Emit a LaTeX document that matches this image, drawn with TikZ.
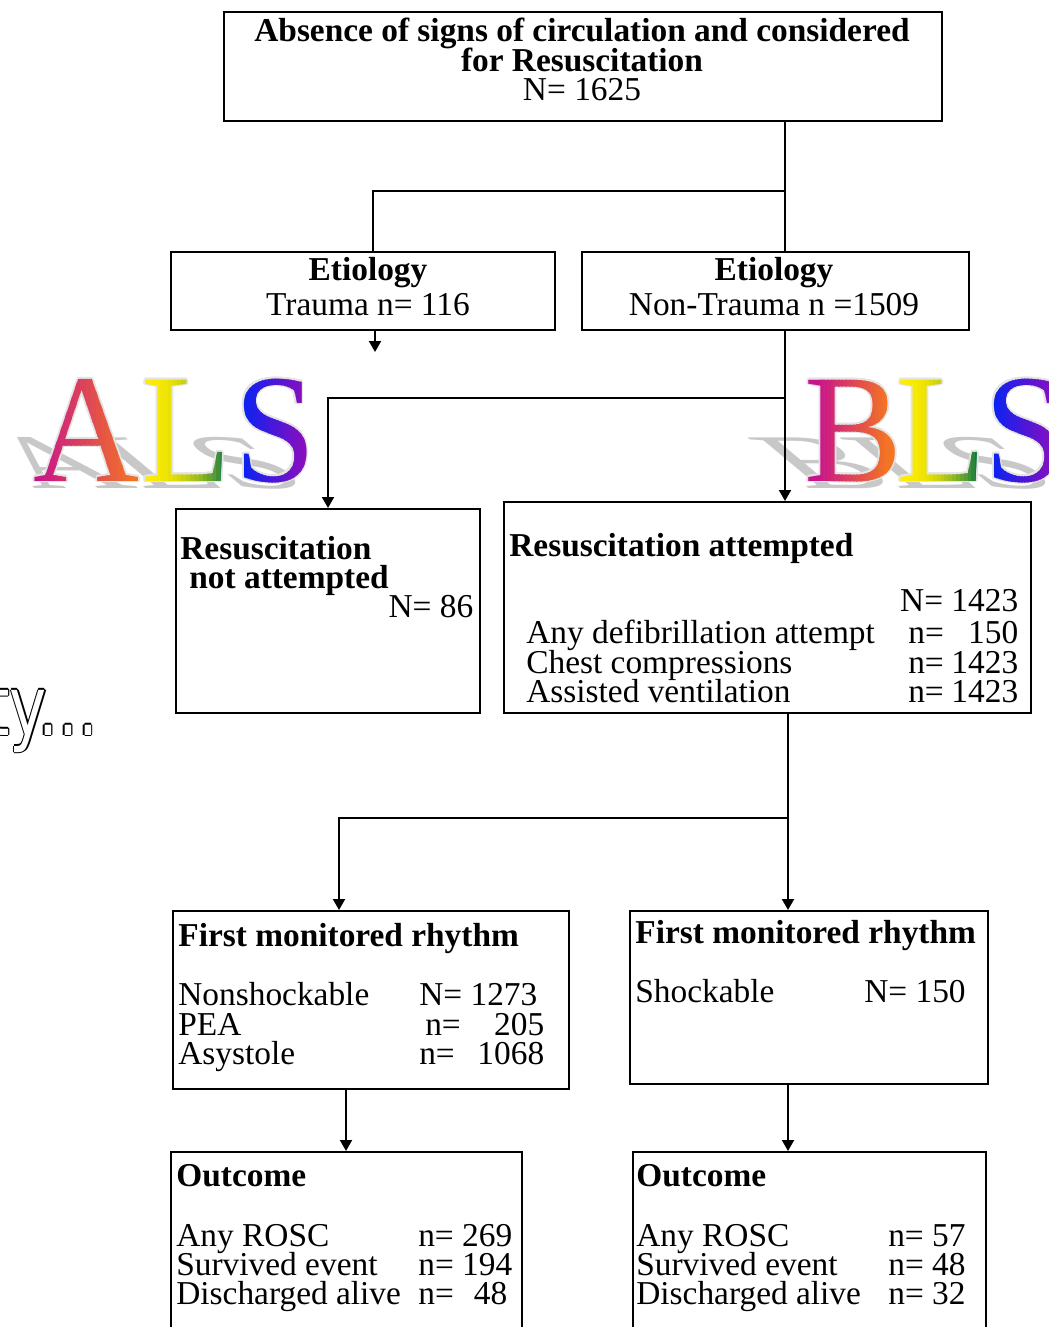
\documentclass[tikz,border=0pt]{standalone}
\usepackage{fontspec}
\setmainfont{Liberation Serif}
\newfontfamily\tyfont{DejaVu Sans}
\usepackage{graphicx}
\usepackage{xcolor}
\usepackage{tikz}
\usetikzlibrary{arrows.meta,positioning}
\definecolor{shadowgray}{HTML}{C8C8C8}
\definecolor{halo}{HTML}{E4E4E4}
\definecolor{amag}{HTML}{C8148C}
\definecolor{aorange}{HTML}{F27424}
\definecolor{lyellow}{HTML}{FFEC00}
\definecolor{lgreen}{HTML}{127A46}
\definecolor{sblue}{HTML}{0A22F2}
\definecolor{spurple}{HTML}{8A0EBE}

\newcommand{\boxfont}{\fontsize{19}{17}\selectfont}
% lines of text at a fixed pitch, baseline = first line
\newcommand{\txtstack}[1]{\vtop{\baselineskip=0.59cm\lineskiplimit=-\maxdimen\lineskip=0pt #1}}
\newcommand{\midline}[1]{\hbox to 0pt{\hss#1\hss}}
\newcommand{\statrow}[3]{\hbox{\hbox to #1{#2\hfil}#3}}

% flattened grey shadow of one big letter
\newcommand{\lettershadow}[3]{%
  \begin{scope}[shift={({(#2+#3)/2},488)}]
    \node[bigletter, text=shadowgray, cm={1,0,-0.6,0.5,(0,0)}, transform shape] at (0,0) {\scalebox{0.95}[1]{#1}};
  \end{scope}}

% big letter with a thin halo and a left-to-right colour blend
\newcommand{\rainbowletter}[6]{%
  \foreach \a in {0,45,...,315}
    \node[bigletter, text=halo, shift={(\a:1.8)}] at ({(#2+#3)/2},481) {\scalebox{0.95}[1]{#1}};
  \foreach \s in {0,...,19}{
    \pgfmathsetmacro{\xa}{\s==0 ? #2-40 : #2+(#3-#2)*\s/20-0.4}
    \pgfmathsetmacro{\xb}{\s==19 ? #3+40 : #2+(#3-#2)*(\s+1)/20+0.4}
    \pgfmathtruncatemacro{\shadeval}{100-100*(\s/19)^#6}
    \begin{scope}
      \clip (\xa,495) rectangle (\xb,355);
      \node[bigletter, text=#4!\shadeval!#5] at ({(#2+#3)/2},481) {\scalebox{0.95}[1]{#1}};
    \end{scope}
  }}

\begin{document}
\begin{tikzpicture}[x=0.02cm, y=-0.02cm,
  panel/.style={draw, line width=1.1pt, anchor=north west, inner sep=0pt},
  txt/.style={inner sep=0pt, anchor=base west, font=\boxfont},
  link/.style={line width=1.1pt},
  arr/.style={line width=1.1pt, -{Triangle[length=2.2mm,width=2.4mm]}},
  bigletter/.style={inner sep=0pt, anchor=base, font=\fontsize{88}{88}\selectfont},
  tyword/.style={inner sep=0pt, anchor=base west, font=\tyfont\fontsize{47}{47}\selectfont}
]
\useasboundingbox (0,0) rectangle (1048,1327);

% ALS / BLS
\foreach \ch/\xl/\xr in {A/35/138, L/143/230, S/243/307, B/817/890, L/903/980, S/993/1057}
  \lettershadow{\ch}{\xl}{\xr};
\foreach \ch/\xl/\xr/\ca/\cb/\pw in {A/35/138/amag/aorange/1, L/143/230/lyellow/lgreen/2, S/243/307/sblue/spurple/1,
    B/817/890/amag/aorange/1, L/903/980/lyellow/lgreen/2, S/993/1057/sblue/spurple/1}
  \rainbowletter{\ch}{\xl}{\xr}{\ca}{\cb}{\pw};

% outlined word at the left edge
\foreach \a in {0,45,...,315}
  \node[tyword, text=black, shift={(\a:1.2)}] at (-15,735) {\scalebox{0.76}[1]{ty...}};
\node[tyword, text=white] (tyfill) at (-15,735) {\scalebox{0.76}[1]{ty...}};

% boxes
\node[panel, minimum width=14.36cm, minimum height=2.18cm] (top) at (223,11) {};
\node[panel, minimum width=7.68cm, minimum height=1.56cm] (trauma) at (170,251) {};
\node[panel, minimum width=7.74cm, minimum height=1.56cm] (nontr) at (581,251) {};
\node[panel, minimum width=6.08cm, minimum height=4.08cm] (notatt) at (175,508) {};
\node[panel, minimum width=10.54cm, minimum height=4.22cm] (att) at (503,501) {};
\node[panel, minimum width=7.92cm, minimum height=3.56cm] (fmL) at (172,910) {};
\node[panel, minimum width=7.16cm, minimum height=3.46cm] (fmR) at (629,910) {};
\node[panel, minimum width=7.02cm, minimum height=4cm] (outL) at (170,1151) {};
\node[panel, minimum width=7.06cm, minimum height=4cm] (outR) at (632,1151) {};

% texts
\node[txt, anchor=base] (topT) at (582,42) {\txtstack{%
  \midline{\textbf{Absence of signs of circulation and considered}}
  \midline{\textbf{for Resuscitation}}
  \midline{N= 1625}}};
\node[txt, anchor=base] (traumaT) at (368,281) {\txtstack{%
  \midline{\textbf{Etiology}}\vskip0.11cm
  \midline{Trauma n= 116}}};
\node[txt, anchor=base] (nontrT) at (774,281) {\txtstack{%
  \midline{\textbf{Etiology}}\vskip0.11cm
  \midline{Non-Trauma n =1509}}};
\node[txt] (notattT) at (180,559) {\txtstack{%
  \hbox{\textbf{Resuscitation}}
  \hbox{\hskip0.18cm\textbf{not attempted}}
  \hbox to 5.86cm{\hfil N= 86}}};
\node[txt] (attT) at (509,556) {\txtstack{%
  \hbox{\textbf{Resuscitation attempted}}\vskip0.53cm
  \hbox to 10.18cm{\hfil N= 1423}\vskip0.05cm
  \statrow{7.98cm}{\hskip0.34cm Any defibrillation attempt}{\hbox to 2.2cm{n=\hfil 150}}
  \statrow{7.98cm}{\hskip0.34cm Chest compressions}{\hbox to 2.2cm{n=\hfil 1423}}
  \statrow{7.98cm}{\hskip0.34cm Assisted ventilation}{\hbox to 2.2cm{n=\hfil 1423}}}};
\node[txt] (fmLT) at (178,946) {\txtstack{%
  \hbox{\textbf{First monitored rhythm}}\vskip0.61cm
  \statrow{4.82cm}{Nonshockable}{N= 1273}
  \statrow{4.82cm}{PEA}{\hbox to 2.5cm{\hskip0.12cm n=\hfil 205}}
  \statrow{4.82cm}{Asystole}{\hbox to 2.5cm{n=\hfil 1068}}}};
\node[txt] (fmRT) at (635,943) {\txtstack{%
  \hbox{\textbf{First monitored rhythm}}\vskip0.61cm
  \statrow{4.58cm}{Shockable}{N= 150}}};
\node[txt] (outLT) at (176,1186) {\txtstack{%
  \hbox{\textbf{Outcome}}\vskip0.61cm
  \statrow{4.84cm}{Any ROSC}{n= 269}
  \statrow{4.84cm}{Survived event}{n= 194}
  \statrow{4.84cm}{Discharged alive}{n=\hspace{0.4cm}48}}};
\node[txt] (outRT) at (636,1186) {\txtstack{%
  \hbox{\textbf{Outcome}}\vskip0.61cm
  \statrow{5.04cm}{Any ROSC}{n= 57}
  \statrow{5.04cm}{Survived event}{n= 48}
  \statrow{5.04cm}{Discharged alive}{n= 32}}};

% connectors
\coordinate (split1) at (785,191);
\coordinate (bendT) at (373,191);
\coordinate (traumaEnd) at (375,352);
\coordinate (split2) at (785,398);
\coordinate (bendN) at (328,398);
\coordinate (split3) at (788,818);
\coordinate (bendF) at (339,818);
\coordinate (dropL) at (346,1120);
\draw[link] (top.south -| split1) -- (nontr.north -| split1);
\draw[link] (split1) -- (bendT) -- (trauma.north -| bendT);
\draw[arr] (trauma.south -| traumaEnd) -- (traumaEnd);
\draw[arr] (nontr.south -| split2) -- (att.north -| split2);
\draw[arr] (split2) -- (bendN) -- (notatt.north -| bendN);
\draw[arr] (att.south -| split3) -- (fmR.north -| split3);
\draw[arr] (split3) -- (bendF) -- (fmL.north -| bendF);
\draw[arr] (fmL.south -| dropL) -- (outL.north -| dropL);
\draw[arr] (fmR.south -| split3) -- (outR.north -| split3);
\end{tikzpicture}
\end{document}
